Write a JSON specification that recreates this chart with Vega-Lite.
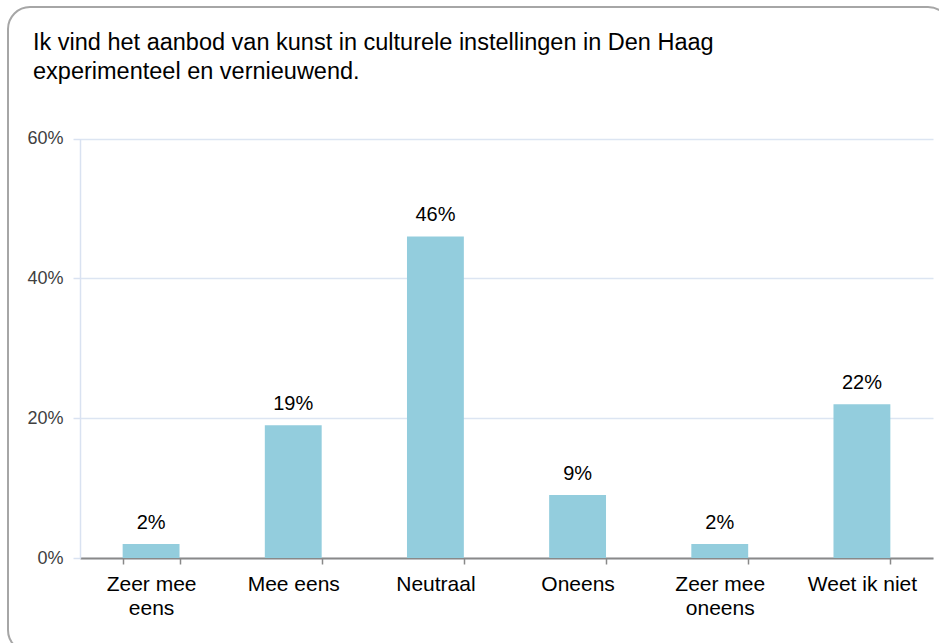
{
  "$schema": "https://vega.github.io/schema/vega-lite/v6.json",
  "width": 942,
  "height": 645,
  "autosize": {"type": "none"},
  "padding": {"left": 8, "top": 7, "right": 0, "bottom": 0},
  "background": "white",
  "view": {"stroke": "#A6A6A6", "strokeWidth": 2, "cornerRadius": 22, "fill": "white"},
  "title": {
    "text": ["Ik vind het aanbod van kunst in culturele instellingen in Den Haag", "experimenteel en vernieuwend."],
    "anchor": "start",
    "frame": "group",
    "orient": "top",
    "baseline": "alphabetic",
    "offset": -95,
    "dx": 25,
    "font": "Liberation Sans",
    "fontSize": 23.5,
    "fontWeight": "normal",
    "color": "#000000",
    "lineHeight": 29
  },
  "data": {
    "values": [
      {"antwoord": "Zeer mee eens", "aandeel": 0.02},
      {"antwoord": "Mee eens", "aandeel": 0.19},
      {"antwoord": "Neutraal", "aandeel": 0.46},
      {"antwoord": "Oneens", "aandeel": 0.09},
      {"antwoord": "Zeer mee oneens", "aandeel": 0.02},
      {"antwoord": "Weet ik niet", "aandeel": 0.22}
    ]
  },
  "encoding": {
    "x": {
      "field": "antwoord",
      "type": "nominal",
      "sort": null,
      "scale": {"range": [72, 925], "paddingInner": 0.6, "paddingOuter": 0.3},
      "axis": {
        "title": null,
        "orient": "bottom",
        "offset": -94,
        "domainColor": "#898989",
        "domainWidth": 2,
        "tickColor": "#898989",
        "tickWidth": 1.5,
        "tickSize": 6,
        "tickBand": "extent",
        "labelAngle": 0,
        "labelFont": "Liberation Sans",
        "labelFontSize": 21,
        "labelColor": "#000000",
        "labelPadding": 9,
        "labelLineHeight": 24,
        "labelOverlap": false,
        "labelBound": false,
        "labelExpr": "datum.label == 'Zeer mee eens' ? ['Zeer mee', 'eens'] : datum.label == 'Zeer mee oneens' ? ['Zeer mee', 'oneens'] : datum.label",
        "grid": false
      }
    },
    "y": {
      "field": "aandeel",
      "type": "quantitative",
      "scale": {"domain": [0, 0.6], "range": [551, 131.5], "nice": false},
      "axis": {
        "title": null,
        "offset": -72,
        "values": [0, 0.2, 0.4, 0.6],
        "format": ".0%",
        "domainColor": "#D9E2F1",
        "domainWidth": 1.5,
        "tickColor": "#D9E2F1",
        "tickSize": 7,
        "tickWidth": 1.5,
        "grid": true,
        "gridColor": "#DCE5F2",
        "gridWidth": 1.5,
        "labelFont": "Liberation Sans",
        "labelFontSize": 18,
        "labelColor": "#404040",
        "labelPadding": 10
      }
    }
  },
  "layer": [
    {"mark": {"type": "bar", "color": "#93CDDD"}},
    {
      "mark": {"type": "text", "baseline": "alphabetic", "dy": -15, "font": "Liberation Sans", "fontSize": 20, "color": "#000000"},
      "encoding": {"text": {"field": "aandeel", "type": "quantitative", "format": ".0%"}}
    }
  ]
}
